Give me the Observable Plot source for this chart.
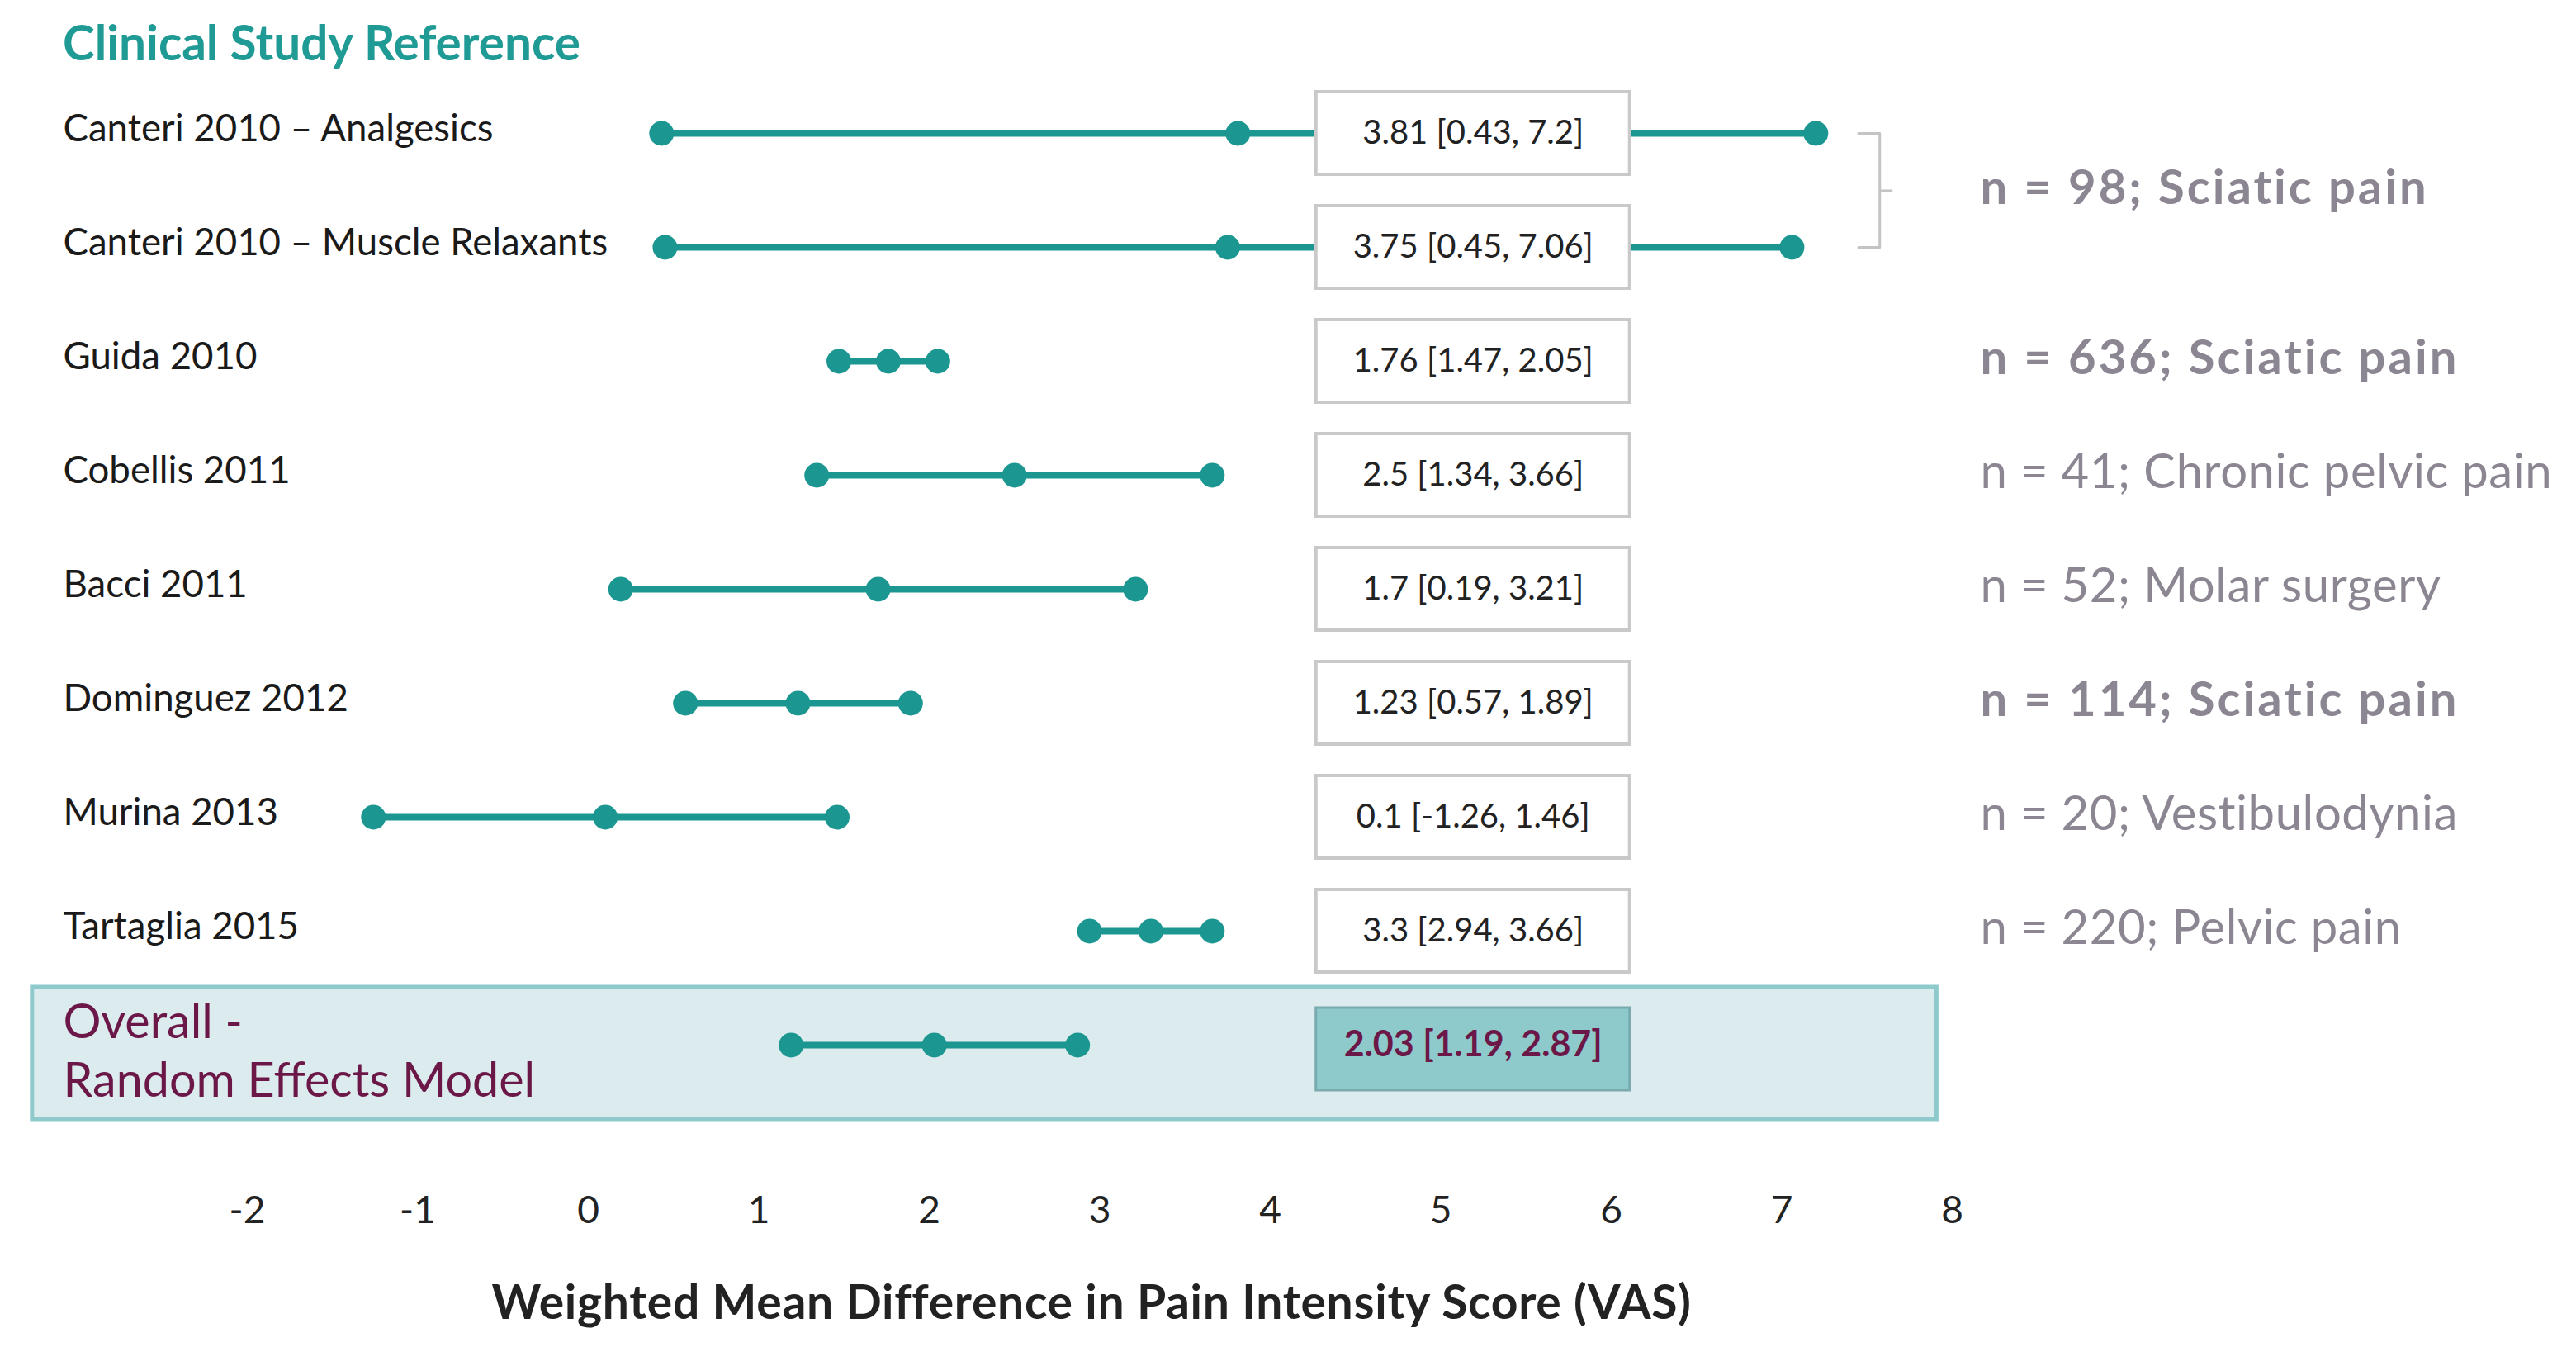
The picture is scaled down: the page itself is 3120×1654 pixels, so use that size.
<!DOCTYPE html>
<html><head><meta charset="utf-8">
<script src="https://cdn.jsdelivr.net/npm/d3@7"></script>
<script src="https://cdn.jsdelivr.net/npm/@observablehq/plot@0.6"></script>
<style>
body{margin:0;background:#fff;font-family:Lato,"Open Sans",sans-serif;}
#wrap{position:relative;width:3120px;height:1654px;overflow:hidden;background:#fff}
#title{position:absolute;left:76px;top:21px;font-size:58.5px;font-weight:700;color:#1f9a94;line-height:1;white-space:nowrap}
#chart{position:absolute;left:0;top:100px}
.boldnote text{letter-spacing:3px}
.regnote text{letter-spacing:0.6px}
.axtitle text{letter-spacing:0.7px}
</style></head><body>
<div id="wrap"><div id="title">Clinical Study Reference</div><div id="chart"></div></div>
<script>
// ---- data ----
const rows = [
  "Canteri 2010 – Analgesics",
  "Canteri 2010 – Muscle Relaxants",
  "Guida 2010",
  "Cobellis 2011",
  "Bacci 2011",
  "Dominguez 2012",
  "Murina 2013",
  "Tartaglia 2015",
  "Overall -\nRandom Effects Model"
];
const estimates = [3.81, 3.75, 1.76, 2.5, 1.7, 1.23, 0.1, 3.3, 2.03];
const lower     = [0.43, 0.45, 1.47, 1.34, 0.19, 0.57, -1.26, 2.94, 1.19];
const upper     = [7.2, 7.06, 2.05, 3.66, 3.21, 1.89, 1.46, 3.66, 2.87];

const noteRows = ["Canteri 2010 – Analgesics", "Guida 2010", "Cobellis 2011", "Bacci 2011", "Dominguez 2012", "Murina 2013", "Tartaglia 2015"];
const noteText = ["n = 98; Sciatic pain", "n = 636; Sciatic pain", "n = 41; Chronic pelvic pain", "n = 52; Molar surgery", "n = 114; Sciatic pain", "n = 20; Vestibulodynia", "n = 220; Pelvic pain"];
const noteBold = [true, true, false, false, true, false, false];
const noteSpan = [2, 1, 1, 1, 1, 1, 1];

const xTicks = [-2, -1, 0, 1, 2, 3, 4, 5, 6, 7, 8];
const xTickLabels = ["-2", "-1", "0", "1", "2", "3", "4", "5", "6", "7", "8"];
const xTitle = "Weighted Mean Difference in Pain Intensity Score (VAS)";

// ---- build ----
const teal = "#1b9690";
const W = 3120, H = 1554;
const firstC = 57, lastC = 1168;
const step = (lastC - firstC) / (rows.length - 1);

const data = rows.map((name, i) => ({
  name, est: estimates[i], lo: lower[i], hi: upper[i],
  label: `${estimates[i]} [${lower[i]}, ${upper[i]}]`,
  overall: i === rows.length - 1
}));
const study = data.filter(d => !d.overall);
const overall = data.filter(d => d.overall);
const dots = data.flatMap(d => [d.lo, d.est, d.hi].map(v => ({name: d.name, v})));
const notes = noteRows.map((r, i) => ({name: r, text: noteText[i], bold: noteBold[i], span: noteSpan[i]}));

const boxX1 = 4.27, boxX2 = 6.11, boxMid = 5.19;
const bx0 = 7.45, bx1 = 7.575, bx2 = 7.65;

const noteMarks = [];
for (const span of [1, 2]) for (const bold of [true, false]) {
  const sub = notes.filter(n => n.span === span && n.bold === bold);
  if (!sub.length) continue;
  noteMarks.push(Plot.text(sub, {
    y: "name", text: "text", frameAnchor: "right", dx: 34, dy: (span - 1) * step / 2 - 3,
    textAnchor: "start", fontSize: 58, fontWeight: bold ? "bold" : "normal", fill: "#8b8692",
    className: bold ? "boldnote" : "regnote"
  }));
}

const chart = Plot.plot({
  width: W, height: H,
  marginLeft: 299, marginRight: 756, marginTop: 0, marginBottom: 214,
  style: {fontFamily: "Lato, 'Open Sans', sans-serif", fontSize: "46px", color: "#222", background: "transparent", overflow: "visible"},
  x: {domain: [-2, 8], ticks: xTicks, tickFormat: d => xTickLabels[xTicks.indexOf(d)], tickSize: 0, tickPadding: 8, label: null},
  y: {type: "band", domain: rows, range: [firstC - step / 2, lastC + step / 2], padding: 0, axis: null},
  marks: [
    Plot.barX(overall, {y: "name", x1: () => -3.26, x2: () => 7.91, insetTop: -1, insetBottom: -21,
      fill: "#dcebee", stroke: "#8ecacb", strokeWidth: 5}),
    Plot.link(data, {x1: "lo", x2: "hi", y1: "name", y2: "name", stroke: teal, strokeWidth: 8}),
    Plot.dot(dots, {x: "v", y: "name", r: 15, fill: teal}),
    Plot.barX(study, {y: "name", x1: () => boxX1, x2: () => boxX2, insetTop: 19, insetBottom: 19,
      fill: "white", stroke: "#c9c9c9", strokeWidth: 4}),
    Plot.text(study, {y: "name", x: () => boxMid, text: "label", fontSize: 40, fill: "#222"}),
    Plot.barX(overall, {y: "name", x1: () => boxX1, x2: () => boxX2, insetTop: 24, insetBottom: 14,
      fill: "#8ecacb", stroke: "#78aaae", strokeWidth: 3}),
    Plot.text(overall, {y: "name", x: () => boxMid, text: "label", fontSize: 43, fontWeight: "bold", fill: "#6b1748"}),
    Plot.text(study, {y: "name", text: "name", frameAnchor: "left", dx: -223, dy: -5, textAnchor: "start", fontSize: 45.6, fill: "#1a1a1a"}),
    Plot.text(overall, {y: "name", text: "name", frameAnchor: "left", dx: -223, dy: 4, textAnchor: "start", fontSize: 57.5, lineHeight: 1.25, fill: "#6b1748"}),
    Plot.line([{x: bx0, y: rows[0]}, {x: bx1, y: rows[0]}, {x: bx1, y: rows[1]}, {x: bx0, y: rows[1]}],
      {x: "x", y: "y", stroke: "#c4c4c4", strokeWidth: 3}),
    Plot.link([0], {x1: () => bx1, x2: () => bx2, y1: () => rows[0], y2: () => rows[0], dy: step / 2, stroke: "#c4c4c4", strokeWidth: 3}),
    ...noteMarks,
    Plot.text([xTitle], {text: d => d, frameAnchor: "bottom", dx: -10, dy: 156, fontSize: 57, fontWeight: "bold", fill: "#222", className: "axtitle"})
  ]
});
document.getElementById("chart").appendChild(chart);
</script></body></html>
